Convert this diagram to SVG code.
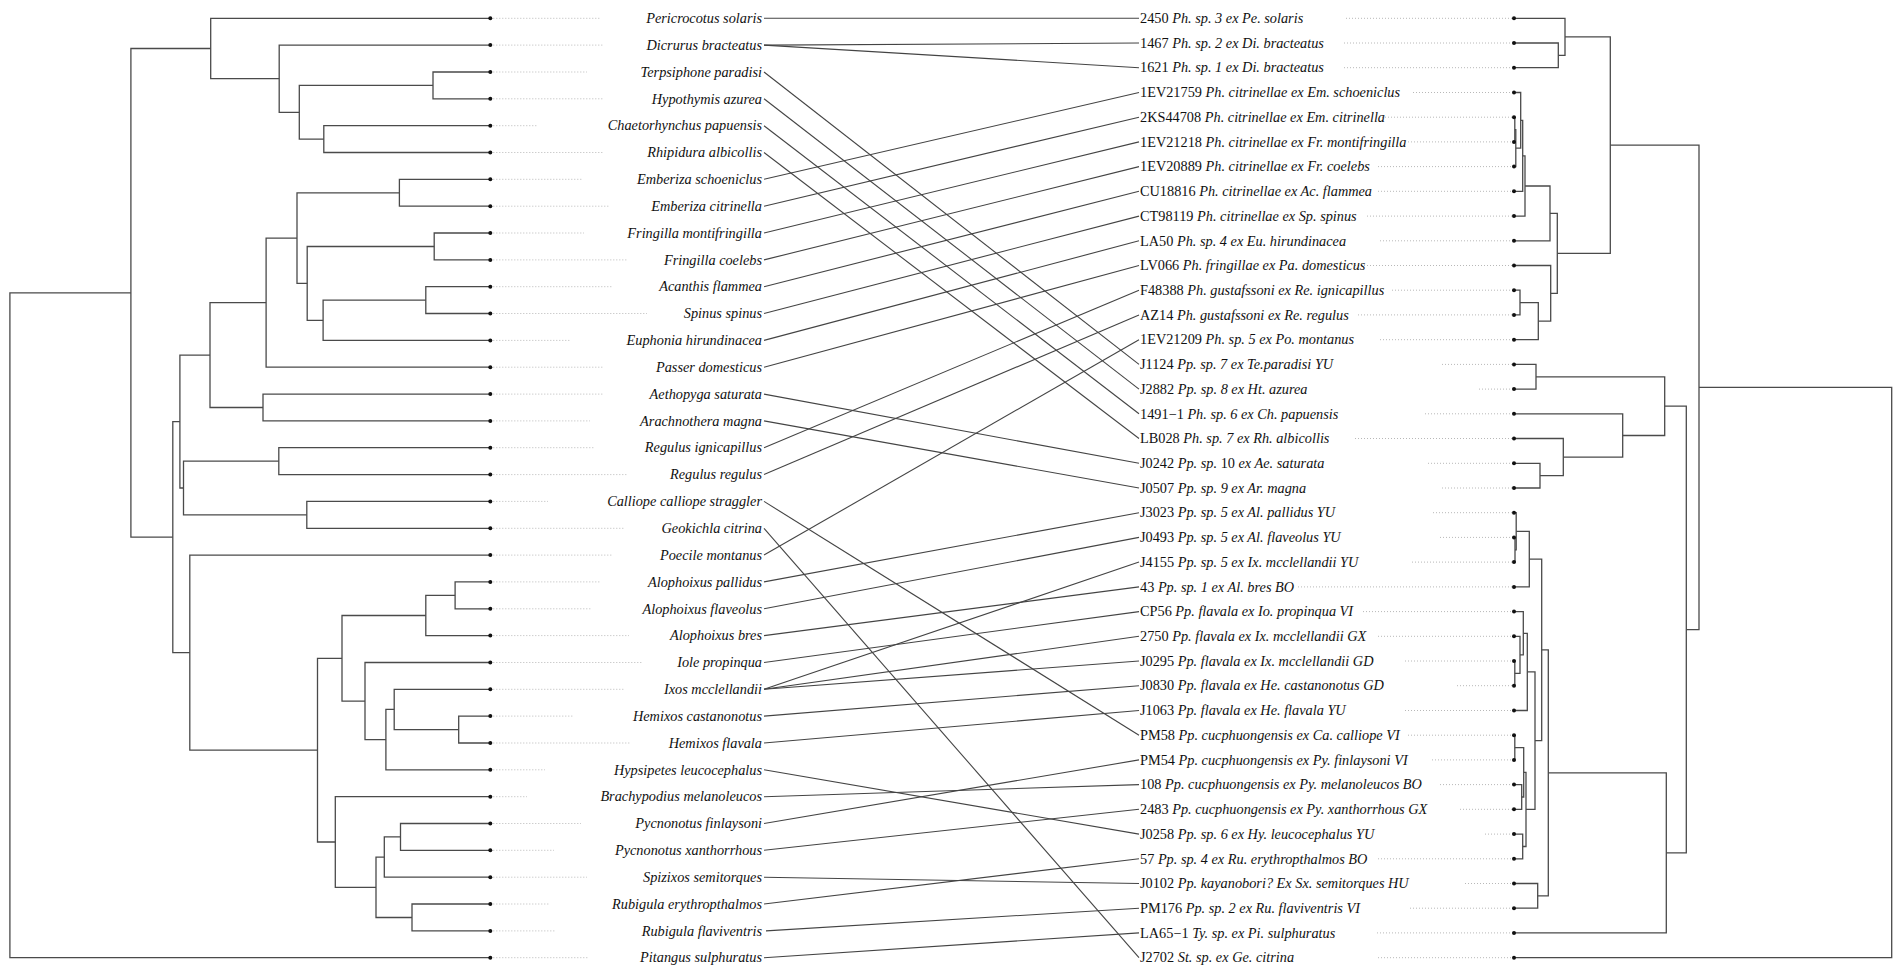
<svg xmlns="http://www.w3.org/2000/svg" width="1902" height="974" viewBox="0 0 1902 974">
<style>
.tr{fill:none;stroke:#4a4a4a;stroke-width:1.3}
.cn{fill:none;stroke:#444;stroke-width:1.1}
.dt{stroke:#b8b8b8;stroke-width:1;stroke-dasharray:1 2}
.tip{fill:#111}
.ll{font-family:"Liberation Serif",serif;font-style:italic;font-size:14.3px;fill:#111;text-anchor:end}
.rl{font-family:"Liberation Serif",serif;font-size:14.3px;fill:#111}
.it{font-style:italic}
</style>
<rect width="1902" height="974" fill="#fff"/>
<g id="left-tree" class="tr">
<path d="M490.3 72.0H433V98.8H490.3"/>
<path d="M490.3 125.7H323.8V152.5H490.3"/>
<path d="M433 85.4H299.3V139.1H323.8"/>
<path d="M490.3 45.1H279.2V112.3H299.3"/>
<path d="M490.3 18.3H210.7V78.7H279.2"/>
<path d="M490.3 179.3H399.4V206.2H490.3"/>
<path d="M490.3 233.0H434.2V259.9H490.3"/>
<path d="M490.3 286.7H425.8V313.5H490.3"/>
<path d="M425.8 300.1H323.1V340.4H490.3"/>
<path d="M434.2 246.5H307.2V320.3H323.1"/>
<path d="M399.4 192.8H297V283.4H307.2"/>
<path d="M297 238.1H266.1V367.2H490.3"/>
<path d="M490.3 394.1H263V420.9H490.3"/>
<path d="M266.1 302.7H210V407.5H263"/>
<path d="M490.3 447.7H278.8V474.6H490.3"/>
<path d="M490.3 501.4H306.8V528.3H490.3"/>
<path d="M278.8 461.2H183.5V514.9H306.8"/>
<path d="M210 355.1H179.9V488.0H183.5"/>
<path d="M490.3 581.9H455.1V608.8H490.3"/>
<path d="M455.1 595.4H425.8V635.6H490.3"/>
<path d="M490.3 716.1H458.7V743.0H490.3"/>
<path d="M490.3 689.3H394.2V729.6H458.7"/>
<path d="M394.2 709.4H385.9V769.8H490.3"/>
<path d="M490.3 662.5H365V739.6H385.9"/>
<path d="M425.8 615.5H342V701.1H365"/>
<path d="M490.3 823.5H400.5V850.3H490.3"/>
<path d="M400.5 836.9H384.3V877.2H490.3"/>
<path d="M490.3 904.0H412V930.9H490.3"/>
<path d="M384.3 857.1H376V917.5H412"/>
<path d="M490.3 796.7H335.3V887.3H376"/>
<path d="M342 658.3H317.5V842.0H335.3"/>
<path d="M490.3 555.1H189.8V750.2H317.5"/>
<path d="M179.9 421.6H172.8V652.7H189.8"/>
<path d="M210.7 48.5H130.9V537.2H172.8"/>
<path d="M130.9 292.9H9.9V957.7H490.3"/>
</g>
<g id="right-tree" class="tr">
<path d="M1514 43.0H1558.3V67.7H1514"/>
<path d="M1514 18.3H1565V55.4H1558.3"/>
<path d="M1514 117.2H1514.8V141.9H1514"/>
<path d="M1514.8 129.6H1515.8V166.6H1514"/>
<path d="M1514 92.5H1520.7V148.1H1515.8"/>
<path d="M1520.7 120.3H1522.7V191.3H1514"/>
<path d="M1522.7 155.8H1525V216.1H1514"/>
<path d="M1525 186.0H1550V240.8H1514"/>
<path d="M1514 290.2H1520V314.9H1514"/>
<path d="M1520 302.6H1538.3V339.7H1514"/>
<path d="M1514 265.5H1550.7V321.1H1538.3"/>
<path d="M1550 213.4H1557.3V293.3H1550.7"/>
<path d="M1565 36.8H1610.3V253.4H1557.3"/>
<path d="M1514 364.4H1536V389.1H1514"/>
<path d="M1514 463.3H1540V488.0H1514"/>
<path d="M1514 438.5H1563.3V475.7H1540"/>
<path d="M1514 413.8H1622.7V457.1H1563.3"/>
<path d="M1536 376.8H1664.7V435.5H1622.7"/>
<path d="M1514 537.4H1515V562.1H1514"/>
<path d="M1515 549.8H1516.2V512.7H1514"/>
<path d="M1516.2 531.3H1529.3V586.9H1514"/>
<path d="M1514 661.0H1514.8V685.7H1514"/>
<path d="M1514 636.3H1520V673.4H1514.8"/>
<path d="M1514 611.6H1523.3V654.9H1520"/>
<path d="M1523.3 633.3H1527.3V710.5H1514"/>
<path d="M1514 735.2H1514.8V759.9H1514"/>
<path d="M1514 784.6H1521.7V809.3H1514"/>
<path d="M1514.8 747.6H1523.7V797.0H1521.7"/>
<path d="M1514 834.1H1522.7V858.8H1514"/>
<path d="M1523.7 772.3H1526V846.5H1522.7"/>
<path d="M1527.3 671.9H1535V809.4H1526"/>
<path d="M1529.3 559.1H1541.7V740.7H1535"/>
<path d="M1514 883.5H1537.7V908.2H1514"/>
<path d="M1541.7 649.9H1548.3V895.9H1537.7"/>
<path d="M1548.3 772.9H1666.3V932.9H1514"/>
<path d="M1664.7 406.2H1686.3V852.9H1666.3"/>
<path d="M1610.3 145.1H1699V629.6H1686.3"/>
<path d="M1699 387.4H1891.7V957.7H1514"/>
</g>
<g id="connectors" class="cn">
<path d="M764 18.3L1139 18.3"/>
<path d="M764 45.1L1139 43.0"/>
<path d="M764 45.1L1139 67.7"/>
<path d="M764 72.0L1139 364.4"/>
<path d="M764 98.8L1139 389.1"/>
<path d="M764 125.7L1139 413.8"/>
<path d="M764 152.5L1139 438.5"/>
<path d="M764 179.3L1139 92.5"/>
<path d="M764 206.2L1139 117.2"/>
<path d="M764 233.0L1139 141.9"/>
<path d="M764 259.9L1139 166.6"/>
<path d="M764 286.7L1139 191.3"/>
<path d="M764 313.5L1139 216.1"/>
<path d="M764 340.4L1139 240.8"/>
<path d="M764 367.2L1139 265.5"/>
<path d="M764 394.1L1139 463.3"/>
<path d="M764 420.9L1139 488.0"/>
<path d="M764 447.7L1139 290.2"/>
<path d="M764 474.6L1139 314.9"/>
<path d="M764 501.4L1139 735.2"/>
<path d="M764 528.3L1139 957.7"/>
<path d="M764 555.1L1139 339.7"/>
<path d="M764 581.9L1139 512.7"/>
<path d="M764 608.8L1139 537.4"/>
<path d="M764 635.6L1139 586.9"/>
<path d="M764 662.5L1139 611.6"/>
<path d="M764 689.3L1139 562.1"/>
<path d="M764 689.3L1139 636.3"/>
<path d="M764 689.3L1139 661.0"/>
<path d="M764 716.1L1139 685.7"/>
<path d="M764 743.0L1139 710.5"/>
<path d="M764 769.8L1139 834.1"/>
<path d="M764 796.7L1139 784.6"/>
<path d="M764 823.5L1139 759.9"/>
<path d="M764 850.3L1139 809.3"/>
<path d="M764 877.2L1139 883.5"/>
<path d="M764 904.0L1139 858.8"/>
<path d="M766 930.9L1139 908.2"/>
<path d="M764 957.7L1139 932.9"/>
</g>
<g id="left-taxa">
<g id="L0"><line class="dt" x1="490.3" y1="18.3" x2="601" y2="18.3"/><circle class="tip" cx="490.3" cy="18.3" r="2"/><text class="ll" x="762" y="23">Pericrocotus solaris</text></g>
<g id="L1"><line class="dt" x1="490.3" y1="45.1" x2="604" y2="45.1"/><circle class="tip" cx="490.3" cy="45.1" r="2"/><text class="ll" x="762" y="49.8">Dicrurus bracteatus</text></g>
<g id="L2"><line class="dt" x1="490.3" y1="72.0" x2="587" y2="72.0"/><circle class="tip" cx="490.3" cy="72.0" r="2"/><text class="ll" x="762" y="76.7">Terpsiphone paradisi</text></g>
<g id="L3"><line class="dt" x1="490.3" y1="98.8" x2="604" y2="98.8"/><circle class="tip" cx="490.3" cy="98.8" r="2"/><text class="ll" x="762" y="103.5">Hypothymis azurea</text></g>
<g id="L4"><line class="dt" x1="490.3" y1="125.7" x2="538" y2="125.7"/><circle class="tip" cx="490.3" cy="125.7" r="2"/><text class="ll" x="762" y="130.4">Chaetorhynchus papuensis</text></g>
<g id="L5"><line class="dt" x1="490.3" y1="152.5" x2="604" y2="152.5"/><circle class="tip" cx="490.3" cy="152.5" r="2"/><text class="ll" x="762" y="157.2">Rhipidura albicollis</text></g>
<g id="L6"><line class="dt" x1="490.3" y1="179.3" x2="582" y2="179.3"/><circle class="tip" cx="490.3" cy="179.3" r="2"/><text class="ll" x="762" y="184">Emberiza schoeniclus</text></g>
<g id="L7"><line class="dt" x1="490.3" y1="206.2" x2="610" y2="206.2"/><circle class="tip" cx="490.3" cy="206.2" r="2"/><text class="ll" x="762" y="210.9">Emberiza citrinella</text></g>
<g id="L8"><line class="dt" x1="490.3" y1="233.0" x2="584" y2="233.0"/><circle class="tip" cx="490.3" cy="233.0" r="2"/><text class="ll" x="762" y="237.7">Fringilla montifringilla</text></g>
<g id="L9"><line class="dt" x1="490.3" y1="259.9" x2="627" y2="259.9"/><circle class="tip" cx="490.3" cy="259.9" r="2"/><text class="ll" x="762" y="264.6">Fringilla coelebs</text></g>
<g id="L10"><line class="dt" x1="490.3" y1="286.7" x2="613" y2="286.7"/><circle class="tip" cx="490.3" cy="286.7" r="2"/><text class="ll" x="762" y="291.4">Acanthis flammea</text></g>
<g id="L11"><line class="dt" x1="490.3" y1="313.5" x2="647" y2="313.5"/><circle class="tip" cx="490.3" cy="313.5" r="2"/><text class="ll" x="762" y="318.2">Spinus spinus</text></g>
<g id="L12"><line class="dt" x1="490.3" y1="340.4" x2="571" y2="340.4"/><circle class="tip" cx="490.3" cy="340.4" r="2"/><text class="ll" x="762" y="345.1">Euphonia hirundinacea</text></g>
<g id="L13"><line class="dt" x1="490.3" y1="367.2" x2="603" y2="367.2"/><circle class="tip" cx="490.3" cy="367.2" r="2"/><text class="ll" x="762" y="371.9">Passer domesticus</text></g>
<g id="L14"><line class="dt" x1="490.3" y1="394.1" x2="603" y2="394.1"/><circle class="tip" cx="490.3" cy="394.1" r="2"/><text class="ll" x="762" y="398.8">Aethopyga saturata</text></g>
<g id="L15"><line class="dt" x1="490.3" y1="420.9" x2="590" y2="420.9"/><circle class="tip" cx="490.3" cy="420.9" r="2"/><text class="ll" x="762" y="425.6">Arachnothera magna</text></g>
<g id="L16"><line class="dt" x1="490.3" y1="447.7" x2="595" y2="447.7"/><circle class="tip" cx="490.3" cy="447.7" r="2"/><text class="ll" x="762" y="452.4">Regulus ignicapillus</text></g>
<g id="L17"><line class="dt" x1="490.3" y1="474.6" x2="627" y2="474.6"/><circle class="tip" cx="490.3" cy="474.6" r="2"/><text class="ll" x="762" y="479.3">Regulus regulus</text></g>
<g id="L18"><line class="dt" x1="490.3" y1="501.4" x2="548" y2="501.4"/><circle class="tip" cx="490.3" cy="501.4" r="2"/><text class="ll" x="762" y="506.1">Calliope calliope straggler</text></g>
<g id="L19"><line class="dt" x1="490.3" y1="528.3" x2="624" y2="528.3"/><circle class="tip" cx="490.3" cy="528.3" r="2"/><text class="ll" x="762" y="533">Geokichla citrina</text></g>
<g id="L20"><line class="dt" x1="490.3" y1="555.1" x2="613" y2="555.1"/><circle class="tip" cx="490.3" cy="555.1" r="2"/><text class="ll" x="762" y="559.8">Poecile montanus</text></g>
<g id="L21"><line class="dt" x1="490.3" y1="581.9" x2="601" y2="581.9"/><circle class="tip" cx="490.3" cy="581.9" r="2"/><text class="ll" x="762" y="586.6">Alophoixus pallidus</text></g>
<g id="L22"><line class="dt" x1="490.3" y1="608.8" x2="592" y2="608.8"/><circle class="tip" cx="490.3" cy="608.8" r="2"/><text class="ll" x="762" y="613.5">Alophoixus flaveolus</text></g>
<g id="L23"><line class="dt" x1="490.3" y1="635.6" x2="629" y2="635.6"/><circle class="tip" cx="490.3" cy="635.6" r="2"/><text class="ll" x="762" y="640.3">Alophoixus bres</text></g>
<g id="L24"><line class="dt" x1="490.3" y1="662.5" x2="643" y2="662.5"/><circle class="tip" cx="490.3" cy="662.5" r="2"/><text class="ll" x="762" y="667.2">Iole propinqua</text></g>
<g id="L25"><line class="dt" x1="490.3" y1="689.3" x2="624" y2="689.3"/><circle class="tip" cx="490.3" cy="689.3" r="2"/><text class="ll" x="762" y="694">Ixos mcclellandii</text></g>
<g id="L26"><line class="dt" x1="490.3" y1="716.1" x2="574" y2="716.1"/><circle class="tip" cx="490.3" cy="716.1" r="2"/><text class="ll" x="762" y="720.8">Hemixos castanonotus</text></g>
<g id="L27"><line class="dt" x1="490.3" y1="743.0" x2="630" y2="743.0"/><circle class="tip" cx="490.3" cy="743.0" r="2"/><text class="ll" x="762" y="747.7">Hemixos flavala</text></g>
<g id="L28"><line class="dt" x1="490.3" y1="769.8" x2="545" y2="769.8"/><circle class="tip" cx="490.3" cy="769.8" r="2"/><text class="ll" x="762" y="774.5">Hypsipetes leucocephalus</text></g>
<g id="L29"><line class="dt" x1="490.3" y1="796.7" x2="527" y2="796.7"/><circle class="tip" cx="490.3" cy="796.7" r="2"/><text class="ll" x="762" y="801.4">Brachypodius melanoleucos</text></g>
<g id="L30"><line class="dt" x1="490.3" y1="823.5" x2="581" y2="823.5"/><circle class="tip" cx="490.3" cy="823.5" r="2"/><text class="ll" x="762" y="828.2">Pycnonotus finlaysoni</text></g>
<g id="L31"><line class="dt" x1="490.3" y1="850.3" x2="554" y2="850.3"/><circle class="tip" cx="490.3" cy="850.3" r="2"/><text class="ll" x="762" y="855">Pycnonotus xanthorrhous</text></g>
<g id="L32"><line class="dt" x1="490.3" y1="877.2" x2="587" y2="877.2"/><circle class="tip" cx="490.3" cy="877.2" r="2"/><text class="ll" x="762" y="881.9">Spizixos semitorques</text></g>
<g id="L33"><line class="dt" x1="490.3" y1="904.0" x2="550" y2="904.0"/><circle class="tip" cx="490.3" cy="904.0" r="2"/><text class="ll" x="762" y="908.7">Rubigula erythropthalmos</text></g>
<g id="L34"><line class="dt" x1="490.3" y1="930.9" x2="556" y2="930.9"/><circle class="tip" cx="490.3" cy="930.9" r="2"/><text class="ll" x="762" y="935.6">Rubigula flaviventris</text></g>
<g id="L35"><line class="dt" x1="490.3" y1="957.7" x2="589" y2="957.7"/><circle class="tip" cx="490.3" cy="957.7" r="2"/><text class="ll" x="762" y="962.4">Pitangus sulphuratus</text></g>
</g>
<g id="right-taxa">
<g id="R0"><line class="dt" x1="1346" y1="18.3" x2="1514" y2="18.3"/><circle class="tip" cx="1514" cy="18.3" r="2"/><text class="rl" x="1140" y="23">2450 <tspan class="it">Ph. sp. 3 ex Pe. solaris</tspan></text></g>
<g id="R1"><line class="dt" x1="1344" y1="43.0" x2="1514" y2="43.0"/><circle class="tip" cx="1514" cy="43.0" r="2"/><text class="rl" x="1140" y="47.7">1467 <tspan class="it">Ph. sp. 2 ex Di. bracteatus</tspan></text></g>
<g id="R2"><line class="dt" x1="1344" y1="67.7" x2="1514" y2="67.7"/><circle class="tip" cx="1514" cy="67.7" r="2"/><text class="rl" x="1140" y="72.4">1621 <tspan class="it">Ph. sp. 1 ex Di. bracteatus</tspan></text></g>
<g id="R3"><line class="dt" x1="1413" y1="92.5" x2="1514" y2="92.5"/><circle class="tip" cx="1514" cy="92.5" r="2"/><text class="rl" x="1140" y="97.2">1EV21759 <tspan class="it">Ph. citrinellae ex Em. schoeniclus</tspan></text></g>
<g id="R4"><line class="dt" x1="1382" y1="117.2" x2="1514" y2="117.2"/><circle class="tip" cx="1514" cy="117.2" r="2"/><text class="rl" x="1140" y="121.9">2KS44708 <tspan class="it">Ph. citrinellae ex Em. citrinella</tspan></text></g>
<g id="R5"><line class="dt" x1="1408" y1="141.9" x2="1514" y2="141.9"/><circle class="tip" cx="1514" cy="141.9" r="2"/><text class="rl" x="1140" y="146.6">1EV21218 <tspan class="it">Ph. citrinellae ex Fr. montifringilla</tspan></text></g>
<g id="R6"><line class="dt" x1="1378" y1="166.6" x2="1514" y2="166.6"/><circle class="tip" cx="1514" cy="166.6" r="2"/><text class="rl" x="1140" y="171.3">1EV20889 <tspan class="it">Ph. citrinellae ex Fr. coelebs</tspan></text></g>
<g id="R7"><line class="dt" x1="1378" y1="191.3" x2="1514" y2="191.3"/><circle class="tip" cx="1514" cy="191.3" r="2"/><text class="rl" x="1140" y="196">CU18816 <tspan class="it">Ph. citrinellae ex Ac. flammea</tspan></text></g>
<g id="R8"><line class="dt" x1="1367" y1="216.1" x2="1514" y2="216.1"/><circle class="tip" cx="1514" cy="216.1" r="2"/><text class="rl" x="1140" y="220.8">CT98119 <tspan class="it">Ph. citrinellae ex Sp. spinus</tspan></text></g>
<g id="R9"><line class="dt" x1="1380" y1="240.8" x2="1514" y2="240.8"/><circle class="tip" cx="1514" cy="240.8" r="2"/><text class="rl" x="1140" y="245.5">LA50 <tspan class="it">Ph. sp. 4 ex Eu. hirundinacea</tspan></text></g>
<g id="R10"><line class="dt" x1="1355" y1="265.5" x2="1514" y2="265.5"/><circle class="tip" cx="1514" cy="265.5" r="2"/><text class="rl" x="1140" y="270.2">LV066 <tspan class="it">Ph. fringillae ex Pa. domesticus</tspan></text></g>
<g id="R11"><line class="dt" x1="1392" y1="290.2" x2="1514" y2="290.2"/><circle class="tip" cx="1514" cy="290.2" r="2"/><text class="rl" x="1140" y="294.9">F48388 <tspan class="it">Ph. gustafssoni ex Re. ignicapillus</tspan></text></g>
<g id="R12"><line class="dt" x1="1358" y1="314.9" x2="1514" y2="314.9"/><circle class="tip" cx="1514" cy="314.9" r="2"/><text class="rl" x="1140" y="319.6">AZ14 <tspan class="it">Ph. gustafssoni ex Re. regulus</tspan></text></g>
<g id="R13"><line class="dt" x1="1380" y1="339.7" x2="1514" y2="339.7"/><circle class="tip" cx="1514" cy="339.7" r="2"/><text class="rl" x="1140" y="344.4">1EV21209 <tspan class="it">Ph. sp. 5 ex Po. montanus</tspan></text></g>
<g id="R14"><line class="dt" x1="1442" y1="364.4" x2="1514" y2="364.4"/><circle class="tip" cx="1514" cy="364.4" r="2"/><text class="rl" x="1140" y="369.1">J1124 <tspan class="it">Pp. sp. 7 ex Te.paradisi YU</tspan></text></g>
<g id="R15"><line class="dt" x1="1479" y1="389.1" x2="1514" y2="389.1"/><circle class="tip" cx="1514" cy="389.1" r="2"/><text class="rl" x="1140" y="393.8">J2882 <tspan class="it">Pp. sp. 8 ex Ht. azurea</tspan></text></g>
<g id="R16"><line class="dt" x1="1425" y1="413.8" x2="1514" y2="413.8"/><circle class="tip" cx="1514" cy="413.8" r="2"/><text class="rl" x="1140" y="418.5">1491−1 <tspan class="it">Ph. sp. 6 ex Ch. papuensis</tspan></text></g>
<g id="R17"><line class="dt" x1="1355" y1="438.5" x2="1514" y2="438.5"/><circle class="tip" cx="1514" cy="438.5" r="2"/><text class="rl" x="1140" y="443.2">LB028 <tspan class="it">Ph. sp. 7 ex Rh. albicollis</tspan></text></g>
<g id="R18"><line class="dt" x1="1428" y1="463.3" x2="1514" y2="463.3"/><circle class="tip" cx="1514" cy="463.3" r="2"/><text class="rl" x="1140" y="468">J0242 <tspan class="it">Pp. sp.</tspan> 10 <tspan class="it">ex Ae. saturata</tspan></text></g>
<g id="R19"><line class="dt" x1="1442" y1="488.0" x2="1514" y2="488.0"/><circle class="tip" cx="1514" cy="488.0" r="2"/><text class="rl" x="1140" y="492.7">J0507 <tspan class="it">Pp. sp. 9 ex Ar. magna</tspan></text></g>
<g id="R20"><line class="dt" x1="1433" y1="512.7" x2="1514" y2="512.7"/><circle class="tip" cx="1514" cy="512.7" r="2"/><text class="rl" x="1140" y="517.4">J3023 <tspan class="it">Pp. sp. 5 ex Al. pallidus YU</tspan></text></g>
<g id="R21"><line class="dt" x1="1440" y1="537.4" x2="1514" y2="537.4"/><circle class="tip" cx="1514" cy="537.4" r="2"/><text class="rl" x="1140" y="542.1">J0493 <tspan class="it">Pp. sp. 5 ex Al. flaveolus YU</tspan></text></g>
<g id="R22"><line class="dt" x1="1412" y1="562.1" x2="1514" y2="562.1"/><circle class="tip" cx="1514" cy="562.1" r="2"/><text class="rl" x="1140" y="566.8">J4155 <tspan class="it">Pp. sp. 5 ex Ix. mcclellandii YU</tspan></text></g>
<g id="R23"><line class="dt" x1="1298" y1="586.9" x2="1514" y2="586.9"/><circle class="tip" cx="1514" cy="586.9" r="2"/><text class="rl" x="1140" y="591.6">43 <tspan class="it">Pp. sp. 1 ex Al. bres BO</tspan></text></g>
<g id="R24"><line class="dt" x1="1363" y1="611.6" x2="1514" y2="611.6"/><circle class="tip" cx="1514" cy="611.6" r="2"/><text class="rl" x="1140" y="616.3">CP56 <tspan class="it">Pp. flavala ex Io. propinqua VI</tspan></text></g>
<g id="R25"><line class="dt" x1="1378" y1="636.3" x2="1514" y2="636.3"/><circle class="tip" cx="1514" cy="636.3" r="2"/><text class="rl" x="1140" y="641">2750 <tspan class="it">Pp. flavala ex Ix. mcclellandii GX</tspan></text></g>
<g id="R26"><line class="dt" x1="1405" y1="661.0" x2="1514" y2="661.0"/><circle class="tip" cx="1514" cy="661.0" r="2"/><text class="rl" x="1140" y="665.7">J0295 <tspan class="it">Pp. flavala ex Ix. mcclellandii GD</tspan></text></g>
<g id="R27"><line class="dt" x1="1457" y1="685.7" x2="1514" y2="685.7"/><circle class="tip" cx="1514" cy="685.7" r="2"/><text class="rl" x="1140" y="690.4">J0830 <tspan class="it">Pp. flavala ex He. castanonotus GD</tspan></text></g>
<g id="R28"><line class="dt" x1="1405" y1="710.5" x2="1514" y2="710.5"/><circle class="tip" cx="1514" cy="710.5" r="2"/><text class="rl" x="1140" y="715.2">J1063 <tspan class="it">Pp. flavala ex He. flavala YU</tspan></text></g>
<g id="R29"><line class="dt" x1="1408" y1="735.2" x2="1514" y2="735.2"/><circle class="tip" cx="1514" cy="735.2" r="2"/><text class="rl" x="1140" y="739.9">PM58 <tspan class="it">Pp. cucphuongensis ex Ca. calliope VI</tspan></text></g>
<g id="R30"><line class="dt" x1="1432" y1="759.9" x2="1514" y2="759.9"/><circle class="tip" cx="1514" cy="759.9" r="2"/><text class="rl" x="1140" y="764.6">PM54 <tspan class="it">Pp. cucphuongensis ex Py. finlaysoni  VI</tspan></text></g>
<g id="R31"><line class="dt" x1="1440" y1="784.6" x2="1514" y2="784.6"/><circle class="tip" cx="1514" cy="784.6" r="2"/><text class="rl" x="1140" y="789.3">108 <tspan class="it">Pp. cucphuongensis ex Py. melanoleucos BO</tspan></text></g>
<g id="R32"><line class="dt" x1="1460" y1="809.3" x2="1514" y2="809.3"/><circle class="tip" cx="1514" cy="809.3" r="2"/><text class="rl" x="1140" y="814">2483 <tspan class="it">Pp. cucphuongensis ex Py. xanthorrhous GX</tspan></text></g>
<g id="R33"><line class="dt" x1="1485" y1="834.1" x2="1514" y2="834.1"/><circle class="tip" cx="1514" cy="834.1" r="2"/><text class="rl" x="1140" y="838.8">J0258 <tspan class="it">Pp. sp. 6 ex Hy. leucocephalus YU</tspan></text></g>
<g id="R34"><line class="dt" x1="1378" y1="858.8" x2="1514" y2="858.8"/><circle class="tip" cx="1514" cy="858.8" r="2"/><text class="rl" x="1140" y="863.5">57 <tspan class="it">Pp. sp. 4 ex Ru. erythropthalmos BO</tspan></text></g>
<g id="R35"><line class="dt" x1="1465" y1="883.5" x2="1514" y2="883.5"/><circle class="tip" cx="1514" cy="883.5" r="2"/><text class="rl" x="1140" y="888.2">J0102 <tspan class="it">Pp. kayanobori? Ex Sx. semitorques HU</tspan></text></g>
<g id="R36"><line class="dt" x1="1410" y1="908.2" x2="1514" y2="908.2"/><circle class="tip" cx="1514" cy="908.2" r="2"/><text class="rl" x="1140" y="912.9">PM176 <tspan class="it">Pp. sp. 2 ex Ru. flaviventris VI</tspan></text></g>
<g id="R37"><line class="dt" x1="1377" y1="932.9" x2="1514" y2="932.9"/><circle class="tip" cx="1514" cy="932.9" r="2"/><text class="rl" x="1140" y="937.6">LA65−1 <tspan class="it">Ty. sp. ex Pi. sulphuratus</tspan></text></g>
<g id="R38"><line class="dt" x1="1378" y1="957.7" x2="1514" y2="957.7"/><circle class="tip" cx="1514" cy="957.7" r="2"/><text class="rl" x="1140" y="962.4">J2702 <tspan class="it">St. sp. ex Ge. citrina</tspan></text></g>
</g>
</svg>
